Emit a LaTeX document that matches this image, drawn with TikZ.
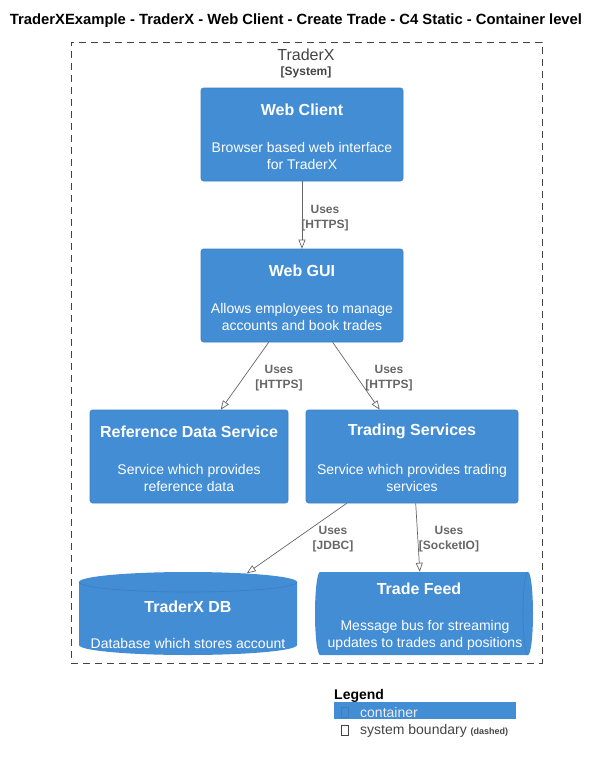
\documentclass[tikz,border=0pt]{standalone}
\usepackage{fontspec}
\setmainfont{Liberation Sans}
\usetikzlibrary{arrows.meta,calc}
\definecolor{cfill}{HTML}{438DD5}
\definecolor{cborder}{HTML}{3C7FC0}
\definecolor{bgrey}{HTML}{444444}
\definecolor{lgrey}{HTML}{666666}
\tikzset{
  container/.style={fill=cfill, draw=cborder, line width=0.6pt, rounded corners=2.5pt, inner sep=0pt},
  ctitle/.style={text=white, font=\fontsize{16}{19}\selectfont\bfseries},
  cdesc/.style={text=white, font=\fontsize{14}{17}\selectfont, align=center},
  rel/.style={draw=lgrey, line width=0.7pt, -{Triangle[open,length=9pt,width=7pt]}},
  rlabel/.style={text=lgrey, font=\fontsize{12}{15}\selectfont\bfseries, align=center},
  boundary/.style={draw=bgrey, line width=0.9pt, dash pattern=on 7pt off 5pt},
}
\begin{document}
\begin{tikzpicture}[x=1pt,y=-1pt]
\useasboundingbox (0,0) rectangle (597,763);
% title
\node[font=\fontsize{14.8}{17}\selectfont\bfseries] (title) at (296,21) {TraderXExample - TraderX - Web Client - Create Trade - C4 Static - Container level};
% boundary
\node[boundary, minimum width=471, minimum height=621, inner sep=0pt] (sys) at (306.5,352.5) {};
\node[text=bgrey, font=\fontsize{16}{19}\selectfont] (systitle) at (306,55) {TraderX};
\node[text=bgrey, font=\fontsize{12}{15}\selectfont\bfseries] (systype) at (306,72) {[System]};
% Web Client
\node[container, minimum width=202, minimum height=93] (webclient) at (302,134.5) {};
\node[ctitle] (wct) at (302,109.5) {Web Client};
\node[cdesc] (wcd) at (302,155.5) {Browser based web interface\\for TraderX};
% Web GUI
\node[container, minimum width=202, minimum height=93] (webgui) at (302,295.5) {};
\node[ctitle] (wgt) at (302,270.5) {Web GUI};
\node[cdesc] (wgd) at (302,316.5) {Allows employees to manage\\accounts and book trades};
% Reference Data Service
\node[container, minimum width=198, minimum height=93] (refdata) at (189,456.5) {};
\node[ctitle] (rdt) at (189,431.5) {Reference Data Service};
\node[cdesc] (rdd) at (189,477.5) {Service which provides\\reference data};
% Trading Services
\node[container, minimum width=212, minimum height=93] (trading) at (412,456.5) {};
\node[ctitle] (tst) at (412,431.5) {Trading Services};
\node[cdesc] (tsd) at (412,477.5) {Service which provides trading\\services};
% TraderX DB (cylinder)
\fill[cfill] (79,582) -- (79,645) arc[start angle=180, end angle=360, x radius=109pt, y radius=10pt] -- (297,582) arc[start angle=0, end angle=180, x radius=109pt, y radius=10pt] -- cycle;
\draw[cborder, line width=0.6pt] (79,582) arc[start angle=180, end angle=360, x radius=109pt, y radius=10pt];
\node[minimum width=218, minimum height=83, inner sep=0pt] (db) at (188,613.5) {};
\node[ctitle] (dbt) at (188,606.5) {TraderX DB};
\node[cdesc] (dbd) at (188,643.5) {Database which stores account};
% Trade Feed (queue)
\fill[cfill] (320,572) -- (528,572) arc[start angle=90, end angle=-90, x radius=5pt, y radius=41.5pt] -- (320,655) arc[start angle=270, end angle=90, x radius=5pt, y radius=41.5pt] -- cycle;
\draw[cborder, line width=0.6pt] (528,572) arc[start angle=90, end angle=270, x radius=5pt, y radius=41.5pt];
\node[minimum width=218, minimum height=83, inner sep=0pt] (feed) at (424,613.5) {};
\node[ctitle] (tft) at (419,588.5) {Trade Feed};
\node[cdesc] (tfd) at (425,635) {Message bus for streaming\\updates to trades and positions};
% relations
\draw[rel] (webclient.south) -- (webgui.north);
\node[rlabel] (l1) at (325,218) {Uses\\{}[HTTPS]};
\draw[rel] ($(webgui.south west)+(68,0)$) -- ($(refdata.north west)+(131,0)$);
\node[rlabel] (l2) at (279,378.5) {Uses\\{}[HTTPS]};
\draw[rel] ($(webgui.south west)+(132,0)$) -- ($(trading.north west)+(74,0)$);
\node[rlabel] (l3) at (389,378.5) {Uses\\{}[HTTPS]};
\draw[rel] ($(trading.south west)+(41,0)$) -- ($(db.north west)+(168,1.5)$);
\node[rlabel] (l4) at (333,539.5) {Uses\\{}[JDBC]};
\draw[rel] ($(trading.south west)+(110,0)$) -- ($(feed.north west)+(105,0)$);
\node[rlabel] (l5) at (449,539.5) {Uses\\{}[SocketIO]};
% legend
\node[anchor=west, font=\fontsize{14}{17}\selectfont\bfseries, inner sep=0pt] (legt) at (334,695.5) {Legend};
\fill[cfill] (334,702) rectangle (516,719);
\node[draw=cborder, line width=0.5pt, minimum width=7, minimum height=10, inner sep=0pt] (lbox1) at (344.5,712) {};
\node[anchor=west, text=white!93!black, font=\fontsize{14}{17}\selectfont, inner sep=0pt] (legc) at (360,712) {container};
\node[draw=bgrey, line width=0.5pt, minimum width=7, minimum height=10, inner sep=0pt] (lbox2) at (344.5,730) {};
\node[anchor=west, text=bgrey, font=\fontsize{14}{17}\selectfont, inner sep=0pt] (legs) at (360,730.5) {system boundary {\fontsize{9}{11}\selectfont\bfseries (dashed)}};
\end{tikzpicture}
\end{document}
